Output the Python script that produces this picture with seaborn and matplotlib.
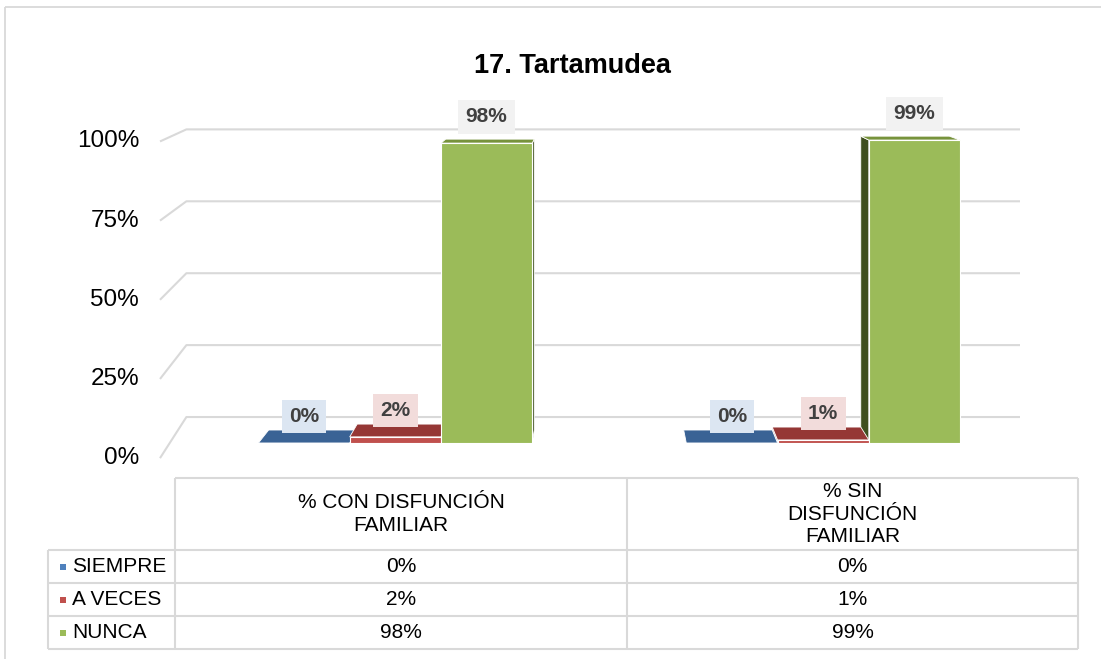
import matplotlib
matplotlib.use("Agg")
import matplotlib.pyplot as plt
import seaborn as sns
import pandas as pd
import numpy as np
from matplotlib.patches import Polygon, Rectangle

# ---------------- data ----------------
title = "17. Tartamudea"
categories = ["% CON DISFUNCIÓN\nFAMILIAR", "% SIN\nDISFUNCIÓN\nFAMILIAR"]
series_names = ["SIEMPRE", "A VECES", "NUNCA"]
siempre = [0, 0]
a_veces = [2, 1]
nunca = [98, 99]
y_ticks = [0, 25, 50, 75, 100]
y_tick_labels = ["0%", "25%", "50%", "75%", "100%"]

series_values = [siempre, a_veces, nunca]

# ---------------- style ----------------
front_colors = ["#4F81BD", "#C0504D", "#9BBB59"]
top_colors = ["#3A6395", "#953735", "#77933C"]
side_colors = ["#2C4D75", "#772C2A", "#3F4F1F"]
label_bg = ["#DCE6F2", "#F2DCDB", "#F2F2F2"]
grid_color = "#D9D9D9"
label_color = "#404040"

sns.set_theme(style="white")
plt.rcParams["font.family"] = ["Liberation Sans", "DejaVu Sans"]

W, H = 1101, 659
fig = plt.figure(figsize=(W / 100, H / 100), dpi=100)


def rect_px(x0, y0, x1, y1):
    return [x0 / W, 1 - y1 / H, (x1 - x0) / W, (y1 - y0) / H]


df = pd.DataFrame({
    "categoria": [c for _ in series_names for c in categories],
    "serie": [s for s in series_names for _ in categories],
    "valor": [v for vals in series_values for v in vals],
})

ax = fig.add_axes(rect_px(160, 137, 1020, 443))
sns.barplot(data=df, x="categoria", y="valor", hue="serie", order=categories,
            hue_order=series_names, palette=front_colors, saturation=1,
            width=0.64, edgecolor="white", linewidth=0.8, legend=False, ax=ax)
ax.set_xlim(-0.55, 1.46)
ax.set_ylim(0, 100)
ax.set_yticks(y_ticks, labels=[""] * len(y_ticks))
ax.tick_params(axis="y", length=0)
ax.tick_params(axis="x", length=0, labelbottom=False)
ax.set_xlabel("")
ax.set_ylabel("")
for s in ax.spines.values():
    s.set_visible(False)
ax.patch.set_alpha(0)
for p in ax.patches:
    p.set_zorder(3)

# ---------------- pseudo 3D perspective ----------------
vp_disp = np.array([600.0, H - 10.0])
to_disp = ax.transData.transform
to_data = ax.transData.inverted().transform


def recede(pt, k):
    d = to_disp(np.asarray(pt, dtype=float))
    return to_data(d + (vp_disp - d) * k)


x_lo, x_hi = ax.get_xlim()
for v, lab in zip(y_ticks, y_tick_labels):
    fy = recede((x_lo, v), -0.035)[1]          # floor-front height of this level
    front = np.array([x_lo, fy])
    back = recede((x_lo, v), 0.06)
    ax.plot([front[0], back[0], x_hi], [front[1], back[1], back[1]],
            color=grid_color, lw=1.5, zorder=0.5, clip_on=False,
            solid_capstyle="butt")
    ax.annotate(lab, xy=(x_lo, fy), xytext=(-15, 0), textcoords="offset points",
                ha="right", va="center", fontsize=17.5, color="#000000",
                annotation_clip=False)

K = 0.03
for i, cont in enumerate(ax.containers):
    for j, bar in enumerate(cont):
        x, w, h = bar.get_x(), bar.get_width(), bar.get_height()
        fl, fr = np.array([x, h]), np.array([x + w, h])
        bl, br = recede(fl, K), recede(fr, K)
        ax.add_patch(Polygon([fl, fr, br, bl], closed=True, fc=top_colors[i],
                             ec="white", lw=0.6, zorder=2.5, clip_on=False))
        left_d = to_disp((x, 0))[0]
        right_d = to_disp((x + w, 0))[0]
        if left_d > vp_disp[0]:
            ax.add_patch(Polygon([(x, 0), fl, bl, recede((x, 0), K)],
                                 closed=True, fc=side_colors[i], ec="white", lw=0.6,
                                 zorder=2.4, clip_on=False))
        elif right_d < vp_disp[0]:
            ax.add_patch(Polygon([(x + w, 0), fr, br, recede((x + w, 0), K)], closed=True,
                                 fc=side_colors[i], ec="white", lw=0.6,
                                 zorder=2.4, clip_on=False))
        ax.annotate(f"{series_values[i][j]}%", xy=(x + w / 2, h), xytext=(0, 19),
                    textcoords="offset points", ha="center", va="center",
                    fontsize=15, fontweight="bold", color=label_color,
                    bbox=dict(boxstyle="square,pad=0.35", fc=label_bg[i], ec="none"),
                    zorder=6, annotation_clip=False)

# ---------------- title ----------------
fig.text(572 / W, 1 - 66 / H, title, ha="center", va="center",
         fontsize=19.5, fontweight="bold", color="#000000")

# ---------------- data table ----------------
tax = fig.add_axes([0, 0, 1, 1], zorder=-1)
tax.set_xlim(0, W)
tax.set_ylim(H, 0)
tax.axis("off")

tax.add_patch(Rectangle((5, 7), 1300, 800, fill=False, ec="#D9D9D9", lw=1.3))

col_edges = [175, 627, 1078]
left_x = 48
header_top, header_bot = 478, 550
row_h = 33
row_lines = [header_bot + row_h * k for k in range(len(series_names) + 1)]
table_bottom = row_lines[-1]
lc = "#D9D9D9"
tax.hlines(header_top, col_edges[0], col_edges[-1], color=lc, lw=1.5)
tax.hlines(row_lines, left_x, col_edges[-1], color=lc, lw=1.5)
tax.vlines(col_edges, header_top, table_bottom, color=lc, lw=1.5)
tax.vlines(left_x, header_bot, table_bottom, color=lc, lw=1.5)

col_centers = [(col_edges[k] + col_edges[k + 1]) / 2 for k in range(len(categories))]
for cx, cat in zip(col_centers, categories):
    tax.text(cx, (header_top + header_bot) / 2, cat, ha="center", va="center",
             fontsize=15, color="#000000", linespacing=1.25)

for i, name in enumerate(series_names):
    cy = row_lines[i] + row_h / 2
    tax.add_patch(Rectangle((60, cy - 3), 6, 6, color=front_colors[i], lw=0))
    tax.text(72, cy, name, ha="left", va="center", fontsize=15, color="#000000")
    for cx, v in zip(col_centers, series_values[i]):
        tax.text(cx, cy, f"{v}%", ha="center", va="center", fontsize=15, color="#000000")

fig.savefig("out.png", dpi=100)
